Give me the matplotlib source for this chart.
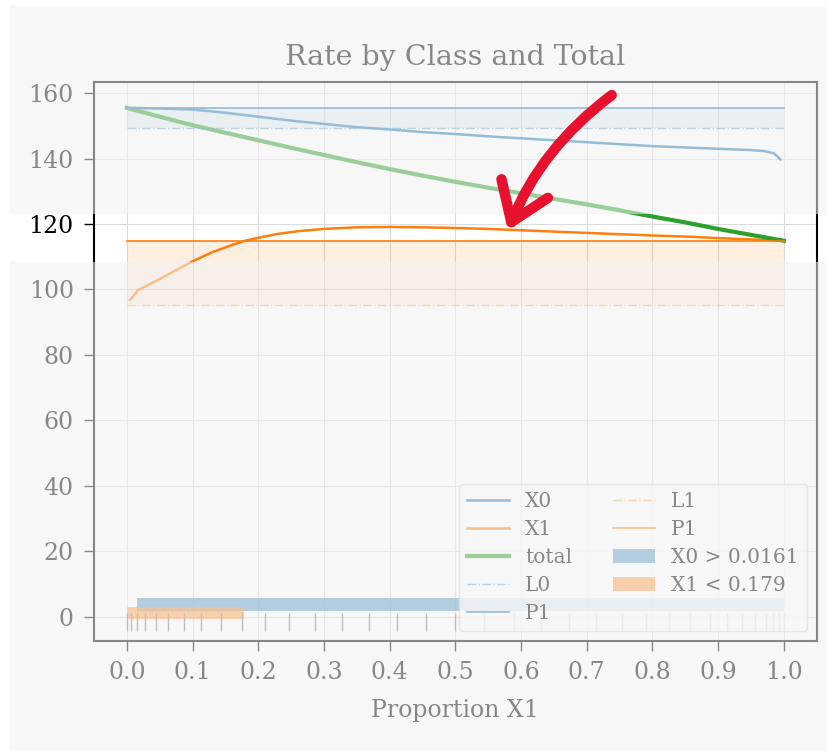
import numpy as np
import matplotlib.pyplot as plt
from matplotlib.patches import Rectangle, FancyArrowPatch

plt.rcParams['font.family'] = ['DejaVu Serif']

# rate of class X0 along the proportion axis
x0_x = [0.0, 0.05, 0.1, 0.15, 0.2, 0.25, 0.3, 0.35, 0.4, 0.45, 0.5, 0.55, 0.6,
        0.65, 0.7, 0.75, 0.8, 0.85, 0.9, 0.95, 0.97, 0.985, 0.995]
x0_y = [155.5, 155.3, 155.0, 154.0, 152.8, 151.6, 150.6, 149.6, 148.9, 148.1, 147.5,
        146.8, 146.2, 145.6, 145.0, 144.4, 143.8, 143.4, 143.0, 142.6, 142.3, 141.6, 139.7]

# rate of class X1
x1_x = [0.005, 0.017, 0.05, 0.1, 0.13, 0.16, 0.18, 0.2, 0.23, 0.26, 0.3, 0.35, 0.4,
        0.45, 0.5, 0.55, 0.6, 0.66, 0.7, 0.75, 0.8, 0.86, 0.9, 0.95, 1.0]
x1_y = [96.8, 99.8, 103.2, 108.6, 111.4, 113.6, 114.9, 115.8, 117.0, 117.8, 118.5,
        119.0, 119.1, 119.0, 118.8, 118.5, 118.1, 117.6, 117.3, 116.9, 116.5, 116.1,
        115.7, 115.3, 114.9]

# overall rate
tot_x = [0.0, 0.05, 0.1, 0.15, 0.2, 0.25, 0.3, 0.35, 0.4, 0.45, 0.5, 0.55, 0.6,
         0.65, 0.7, 0.75, 0.8, 0.85, 0.9, 0.95, 1.0]
tot_y = [155.5, 152.8, 150.2, 147.9, 145.6, 143.3, 141.1, 138.9, 136.8, 134.8, 132.9,
         131.1, 129.4, 127.7, 126.0, 124.2, 122.3, 120.5, 118.5, 116.7, 114.9]

span = [0.0, 1.0]
l0, p0 = 149.3, 155.5
l1, p1 = 95.3, 114.9
x0_cut = 0.0161
x1_cut = 0.179

# sample locations shown as a rug
rug = [0.0, 0.007, 0.016, 0.027, 0.044, 0.063, 0.087, 0.113, 0.143, 0.175, 0.21,
       0.247, 0.286, 0.327, 0.369, 0.411, 0.456, 0.5, 0.544, 0.589, 0.631, 0.673,
       0.714, 0.753, 0.79, 0.825, 0.857, 0.887, 0.913, 0.937, 0.956, 0.973, 0.984,
       0.993, 1.0]

fig = plt.figure(figsize=(8.28, 7.51), dpi=100)
ax = fig.add_axes([0.1135, 0.1465, 0.8728, 0.7443])

ax.plot(x0_x, x0_y, color='tab:blue', lw=1.8, label='X0')
ax.plot(x1_x, x1_y, color='tab:orange', lw=1.8, label='X1')
ax.plot(tot_x, tot_y, color='tab:green', lw=3, label='total')
ax.plot(span, [l0, l0], color='tab:blue', ls='-.', lw=1, alpha=0.6, label='L0')
ax.plot(span, [p0, p0], color='tab:blue', lw=1.2, label='P1')
ax.plot(span, [l1, l1], color='tab:orange', ls='-.', lw=1, alpha=0.6, label='L1')
ax.plot(span, [p1, p1], color='tab:orange', lw=1.2, label='P1')
ax.fill_between(span, l0, p0, color='tab:blue', alpha=0.12, lw=0)
ax.fill_between(span, l1, p1, color='tab:orange', alpha=0.12, lw=0)

ax.barh(3.8, 1 - x0_cut, left=x0_cut, height=3.8, color='tab:blue', alpha=0.7,
        label=f'X0 > {x0_cut}')
ax.barh(1.2, x1_cut, left=0, height=3.6, color='tab:orange', alpha=0.7,
        label=f'X1 < {x1_cut}')
ax.vlines(rug, -4.5, 1.1, color='0.5', lw=1)

ax.set_xlim(-0.05, 1.05)
ax.set_ylim(-7.4, 163.4)
ax.set_xticks(np.linspace(0, 1, 11))
ax.set_xticklabels([f'{v:.1f}' for v in np.linspace(0, 1, 11)])
ax.set_yticks(range(0, 161, 20))
ax.grid(color='#dcdcdc', lw=0.8)
ax.set_axisbelow(True)
ax.tick_params(length=7.5, width=1, labelsize=17, pad=7)
for s in ax.spines.values():
    s.set_linewidth(1.5)

ax.set_title('Rate by Class and Total', fontsize=20.5, pad=12)
ax.set_xlabel('Proportion X1', fontsize=17, labelpad=11)
ax.legend(loc='lower right', ncol=2, fontsize=14.5, handlelength=2.1,
          labelspacing=0.45, columnspacing=2.0)

# soft veil over everything except a band around 120
veil = dict(facecolor=(0.945, 0.945, 0.945), alpha=0.565, lw=0,
            transform=fig.transFigure, zorder=10)
fig.add_artist(Rectangle((0.0121, 0.0), 0.9879, 0.6511, **veil))
fig.add_artist(Rectangle((0.0121, 0.715), 0.9879, 0.277, **veil))

# red pointer onto the X1 curve
arrow = FancyArrowPatch(posA=(0.738, 159.4), posB=(0.58, 118.0),
                        transform=ax.transData,
                        arrowstyle='->,head_length=1.3,head_width=0.9',
                        connectionstyle='arc3,rad=0.14', mutation_scale=20,
                        color='#e8112d', lw=7.5, shrinkA=0, shrinkB=0,
                        capstyle='round', joinstyle='round', zorder=20)
fig.add_artist(arrow)

fig.savefig('out.png', dpi=100, facecolor='white')
